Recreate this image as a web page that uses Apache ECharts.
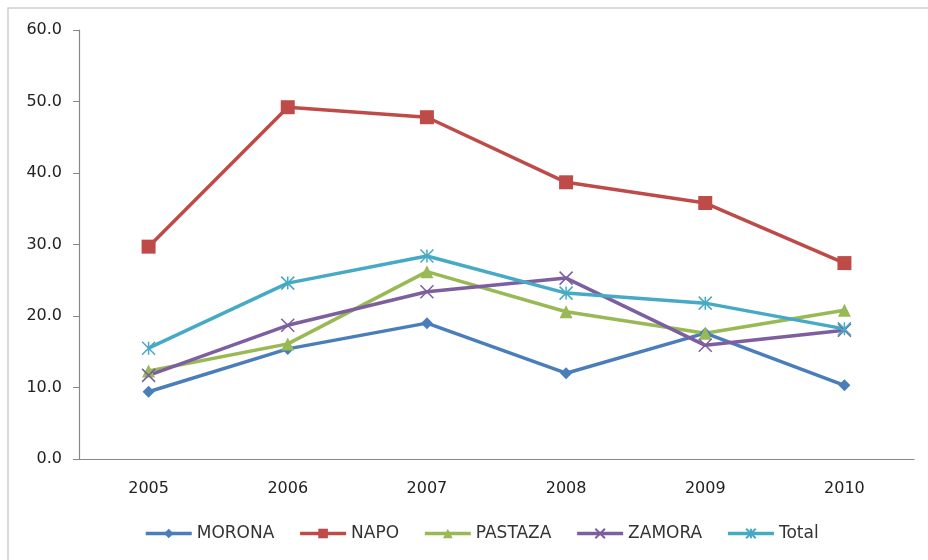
<!DOCTYPE html>
<html>
<head>
<meta charset="utf-8">
<script src="https://cdn.jsdelivr.net/npm/echarts@6/dist/echarts.min.js"></script>
<style>
  html, body { margin: 0; padding: 0; background: #fff; }
  #main { width: 928px; height: 560px; }
</style>
</head>
<body>
<div id="main"></div>
<script>
	var years = ['2005', '2006', '2007', '2008', '2009', '2010'];
	var morona = [9.4, 15.4, 19.0, 12.0, 17.6, 10.3];
	var napo = [29.7, 49.2, 47.8, 38.7, 35.8, 27.4];
	var pastaza = [12.3, 16.1, 26.2, 20.6, 17.6, 20.8];
	var zamora = [11.7, 18.7, 23.4, 25.3, 15.9, 18.0];
	var total = [15.5, 24.6, 28.4, 23.2, 21.8, 18.2];

	// marcadores tipo Excel
	var xMark = 'path://M0,0L10,10M10,0L0,10';
	var starMark = 'path://M0,0L10,10M10,0L0,10M5,0L5,10';

	function serie(name, data, color, symbol, size, hollow) {
		return {
			name: name,
			type: 'line',
			data: data,
			symbol: symbol,
			symbolSize: size,
			lineStyle: { color: color, width: 3.5 },
			itemStyle: hollow ? { color: 'none', borderColor: color, borderWidth: 1.5 } : { color: color },
			emphasis: { disabled: true },
			animation: false
		};
	}

	var myChart = echarts.init(document.getElementById('main'));
	var option = {
		backgroundColor: '#fff',
		textStyle: { fontFamily: 'DejaVu Sans' },
		graphic: [{
			type: 'rect',
			shape: { x: 8, y: 8, width: 940, height: 580 },
			style: { fill: 'none', stroke: '#cfcfcf', lineWidth: 1.5 },
			silent: true
		}],
		grid: { left: 79, right: 14, top: 30, bottom: 101 },
		legend: {
			top: 520,
			left: 139,
			itemWidth: 46,
			itemHeight: 12,
			itemGap: 24,
			lineStyle: { width: 3.5 },
			textStyle: { color: '#333', fontSize: 17, fontFamily: 'DejaVu Sans' },
			data: ['MORONA', 'NAPO', 'PASTAZA', 'ZAMORA', 'Total']
		},
		xAxis: {
			type: 'category',
			data: years,
			boundaryGap: true,
			axisLine: { lineStyle: { color: '#888', width: 1.2 } },
			axisTick: { length: 6, lineStyle: { color: '#888' } },
			axisLabel: { color: '#222', fontSize: 16, margin: 22 }
		},
		yAxis: {
			type: 'value',
			min: 0,
			max: 60,
			interval: 10,
			axisLine: { show: true, lineStyle: { color: '#888', width: 1.2 } },
			axisTick: { show: true, length: 6, lineStyle: { color: '#888' } },
			splitLine: { show: false },
			axisLabel: {
				color: '#222',
				fontSize: 16,
				margin: 17,
				formatter: function(v) { return v.toFixed(1); }
			}
		},
		series: [
			serie('MORONA', morona, '#4a7ebb', 'diamond', 12),
			serie('NAPO', napo, '#be4b48', 'rect', 14),
			serie('PASTAZA', pastaza, '#98b954', 'triangle', 13),
			serie('ZAMORA', zamora, '#7d5fa0', xMark, 13, true),
			serie('Total', total, '#46aac5', starMark, 13, true)
		]
	};
	myChart.setOption(option);
</script>
</body>
</html>
